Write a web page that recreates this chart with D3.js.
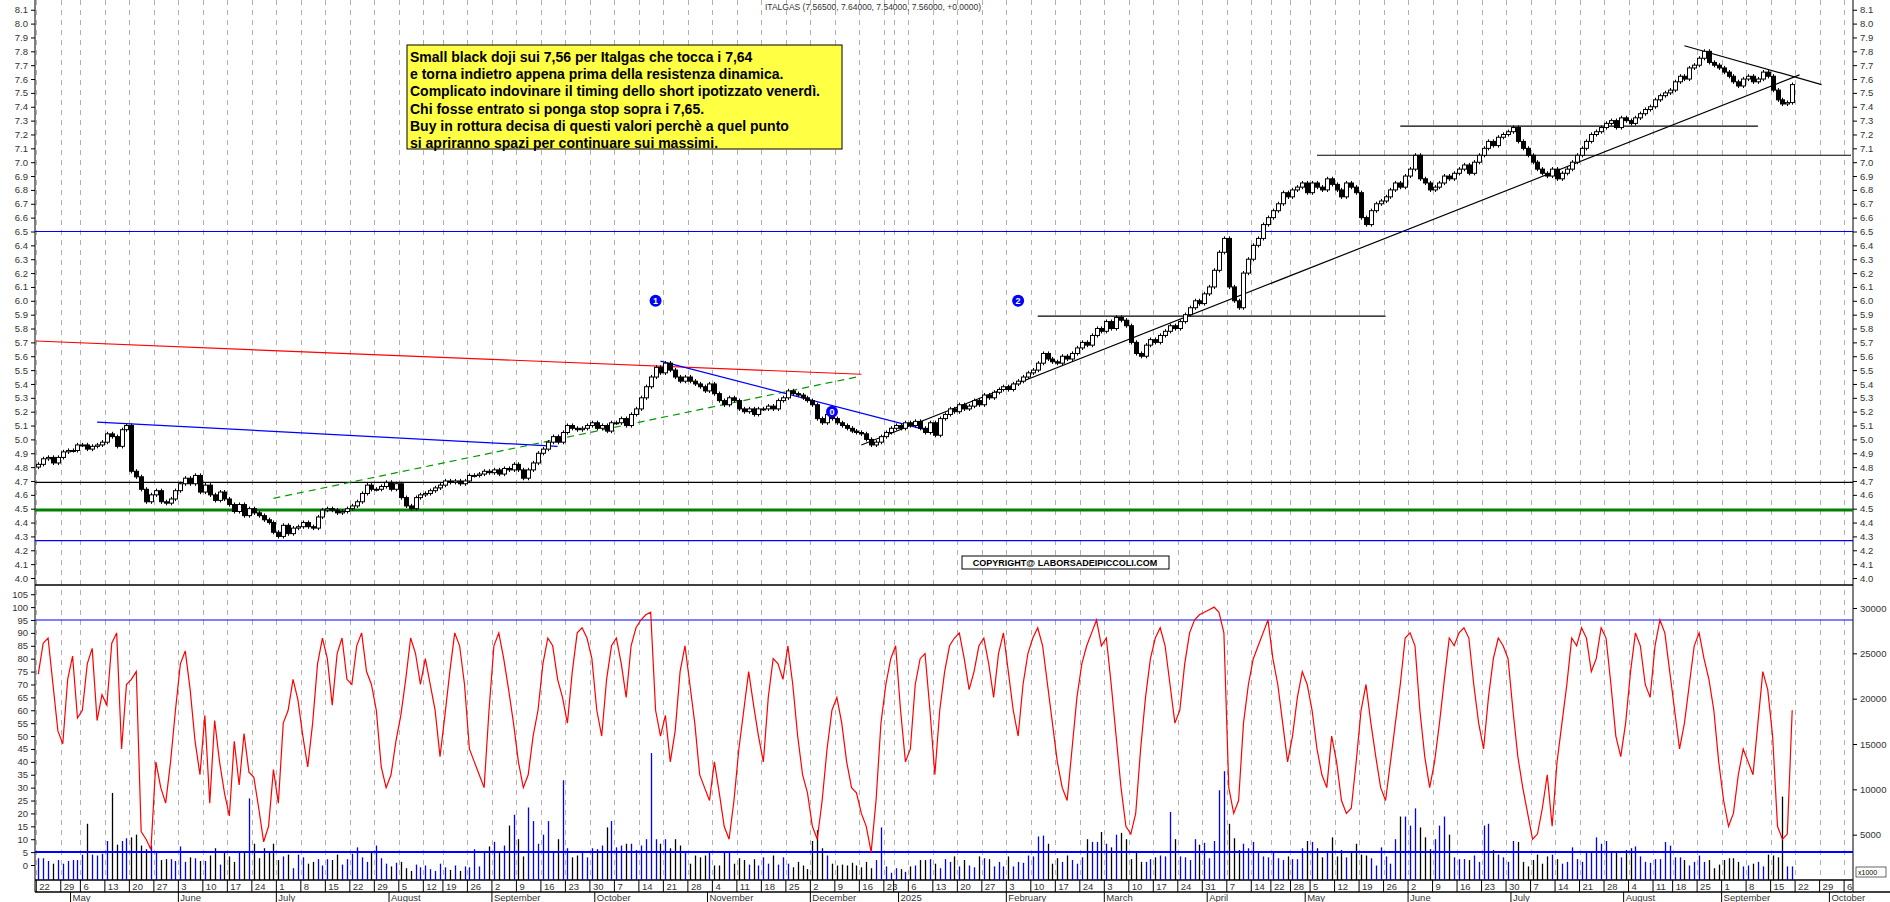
<!DOCTYPE html>
<html><head><meta charset="utf-8">
<script src="https://cdn.jsdelivr.net/npm/d3@7"></script>
<style>body{margin:0;background:#fff}svg{display:block;font-family:"Liberation Sans",Arial,sans-serif}</style>
</head><body><svg id="c" width="1890" height="902"></svg>
<script>
// ---- DATA (weekly groups of daily values) ----
const firstMonday = "2024-04-22";
const holidays = ["2024-05-01","2024-08-15","2024-12-24","2024-12-25","2024-12-26","2024-12-31","2025-01-01","2025-04-18","2025-04-21","2025-05-01","2025-08-15"];
const monthNames = ["2025","February","March","April","May","June","July","August","September","October","November","December"];
const closes = [
[4.82,4.86,4.87,4.83,4.87],[4.91,4.92,4.92,4.96],[4.96,4.93,4.95,4.96,4.98],[5.04,5.02,4.95,5.07,5.10],
[4.77,4.73,4.64,4.55,4.60],[4.63,4.55,4.54,4.57,4.63],[4.68,4.72,4.68,4.74,4.62],[4.67,4.60,4.56,4.62,4.57],
[4.53,4.48,4.53,4.45,4.50],[4.47,4.45,4.42,4.40,4.33],[4.30,4.38,4.32,4.36,4.37],[4.40,4.37,4.36,4.44,4.49],
[4.50,4.49,4.47,4.48,4.50],[4.52,4.55,4.61,4.67,4.64],[4.64,4.66,4.69,4.64,4.68],[4.58,4.52,4.50,4.58,4.60],
[4.61,4.63,4.65,4.67],[4.70,4.69,4.70,4.68,4.70],[4.74,4.74,4.75,4.77,4.76],[4.78,4.75,4.79,4.78,4.82],
[4.78,4.72,4.78,4.83,4.90],[4.93,4.98,5.02,4.98,5.05],[5.10,5.08,5.07,5.08,5.10],[5.12,5.08,5.10,5.06,5.12],
[5.12,5.15,5.10,5.18,5.22],[5.30,5.38,5.45,5.52,5.48],[5.55,5.50,5.45,5.42,5.45],[5.42,5.40,5.38,5.35,5.40],
[5.33,5.28,5.25,5.30,5.28],[5.22,5.20,5.22,5.18,5.22],[5.22,5.24,5.22,5.28,5.30],[5.35,5.33,5.32,5.30,5.28],
[5.25,5.15,5.12,5.18,5.15],[5.12,5.10,5.08,5.06,5.05],[5.04,5.00,4.96,4.98,5.02],[5.05,5.08],[5.10,5.08,5.12],
[5.10,5.13,5.08,5.05,5.12],[5.03,5.15,5.18,5.22,5.20],[5.25,5.22,5.24,5.28,5.25],[5.32,5.30,5.34,5.36,5.38],
[5.36,5.40,5.42,5.45,5.48],[5.50,5.55,5.62,5.58,5.56],[5.55,5.60,5.58,5.62,5.66],[5.70,5.68,5.75,5.80,5.78],
[5.85,5.80,5.88,5.86,5.82],[5.70,5.62,5.60,5.68,5.72],[5.70,5.75,5.78,5.82,5.80],[5.85,5.90,5.95,6.00,5.98],
[6.05,6.10,6.22,6.35,6.45],[6.10,6.00,5.95,6.20,6.30],[6.40,6.45,6.55,6.60],[6.65,6.70,6.78,6.75],
[6.80,6.82,6.85,6.78],[6.85,6.82,6.80,6.88,6.84],[6.80,6.75,6.85,6.82,6.78],[6.60,6.55,6.65,6.70,6.72],
[6.75,6.80,6.85,6.82,6.90],[6.95,7.05,6.88,6.85,6.80],[6.82,6.85,6.90,6.88,6.92],[6.95,6.98,6.92,7.00,7.05],
[7.10,7.15,7.12,7.18,7.20],[7.22,7.25,7.15,7.10,7.05],[7.00,6.95,6.92,6.90,6.95],[6.88,6.92,6.95,7.00,7.05],
[7.10,7.15,7.20,7.22,7.25],[7.28,7.30,7.25,7.32,7.30],[7.28,7.32,7.35,7.38,7.40],[7.45,7.48,7.50,7.52],
[7.58,7.62,7.60,7.68,7.70],[7.75,7.80,7.72,7.70,7.68],[7.65,7.62,7.58,7.55,7.60],[7.62,7.58,7.60,7.65,7.62],
[7.52,7.45,7.42,7.43,7.56]];
const oscillator = [
[74,86,88,70,52],[47,72,81,57],[60,78,84,56,66],[62,86,90,45,70],[72,75,13,10,6],[40,30,24,40,60],
[78,83,68,48,35],[58,24,56,40,28],[19,48,31,51,36],[34,22,9,15,37],[24,55,60,72,64],[50,38,55,78,88],
[80,62,82,88,72],[70,85,90,75,70],[60,38,30,35,48],[58,72,88,82,70],[80,70,60,42],[58,75,90,85,70],
[45,40,35,30,60],[85,90,80,68,55],[40,30,35,50,60],[78,88,85,72,65],[55,75,90,92,88],[80,60,50,72,85],
[88,78,65,85,92],[95,97,98,60,50],[58,40,52,75,85],[70,55,35,30,25],[40,28,15,10,25],[45,60,75,62,50],
[40,65,80,78,72],[85,70,50,35,28],[15,10,25,45,60],[65,55,40,30,28],[20,15,5,25,55],[70,80],[85,60,40],
[45,70,80,82,60],[35,60,75,85,88],[90,80,68,75,85],[88,78,65,82,90],[75,60,50,70,82],[88,92,85,70,55],
[40,30,25,45,65],[78,85,90,95,85],[88,70,50,30,15],[12,20,45,65,80],[88,92,85,70,55],[60,78,90,95,97],
[98,99,100,98,90],[30,20,25,55,70],[80,85,90,95],[80,70,55,40],[50,65,75,70],[60,45,35,30,50],
[40,25,20,22,40],[60,70,55,42,30],[25,40,55,70,88],[90,85,60,42,30],[40,55,72,88,85],[90,92,88,70,55],
[45,65,80,88,85],[80,60,42,30,20],[10,12,22,35,15],[40,55,70,88,85],[92,88,75,80,92],[88,70,50,42,55],
[75,90,85,70,65],[85,95,90,75],[60,45,55,70,85],[90,80,72,60,40],[25,15,20,35,45],[40,35,55,75,68],
[50,15,10,12,60]];
const volumeK = [
[2.4,2.4,2.1,1.8,2.2],[1.8,2.1,2.2,2.2],[2.8,6.2,2.8,2.7,2.9],[4.3,9.6,3.9,4.3,4.6],[4.7,5.0,3.8,3.4,3.8],
[3.0,2.2,2.3,2.3,2.1],[3.7,2.0,2.5,2.4,2.1],[2.1,2.7,3.5,1.7,3.0],[2.6,2.0,3.2,3.0,9.0],[4.0,2.4,3.5,3.0,4.0],
[2.2,2.6,2.8,1.3,2.8],[2.5,1.8,2.0,2.3,1.6],[2.3,2.2,2.8,1.7,2.3],[2.9,3.6,2.5,2.0,3.2],[3.8,2.4,1.8,1.5,1.9],
[2.0,1.3,1.0,1.7,1.4],[1.6,1.2,1.0,1.8],[1.4,1.1,1.6,1.0,1.5],[1.4,3.4,1.5,3.0,3.7],[4.2,3.0,3.8,6.0,7.2],
[4.5,2.6,8.0,6.5,4.0],[5.0,6.5,3.0,4.5,11.0],[3.5,2.5,2.7,3.2,2.5],[3.5,3.4,3.8,5.8,6.5],[3.6,3.8,4.0,4.0,3.3],
[3.8,4.5,14.0,4.5,4.0],[4.5,3.5,4.5,3.8,3.0],[1.8,2.7,2.5,2.7,3.2],[1.6,1.6,3.0,3.0,1.8],[2.4,2.2,1.7,2.3,1.6],
[2.5,1.8,2.7,1.7,2.5],[1.8,1.4,2.0,1.6,1.2],[4.3,5.5,3.5,2.7,1.8],[1.6,1.7,1.6,1.9,1.6],[1.4,2.0,1.3,2.2,5.8],
[1.5,0.8],[1.3,1.2,0.9],[1.5,1.6,2.2,2.2,2.3],[1.8,1.3,2.3,2.0,2.6],[1.5,2.2,1.6,1.4,2.6],[2.4,2.3,1.5,2.0,1.5],
[2.6,1.5,2.0,1.9,2.7],[2.6,4.8,4.9,4.0,1.8],[2.4,2.0,2.7,2.2,1.8],[2.5,4.5,4.2,4.2,5.3],[4.0,3.6,5.0,5.2,4.5],
[2.3,3.0,2.0,2.0,2.3],[2.5,2.7,2.6,7.5,4.5],[2.6,2.5,2.2,4.5,3.9],[4.1,2.4,4.3,9.9,12.0],[6.2,4.6,3.3,4.0,3.5],
[4.2,3.0,2.6,2.5],[3.0,2.4,2.2,2.6],[2.3,2.3,3.5,4.3],[4.2,3.5,2.5,3.0,4.7],[2.6,3.3,2.5,3.1,4.0],
[2.8,2.7,2.4,1.6,3.6],[2.6,1.8,4.5,7.0,7.0],[6.0,7.9,5.8,4.7,3.4],[4.5,6.0,7.0,5.0,2.5],[2.3,2.3,2.2,2.7,2.0],
[6.0,6.2,3.3,2.8,2.5],[2.0,4.3,4.2,2.0,1.5],[2.2,2.8,1.8,2.6,2.8],[2.3,1.8,2.0,3.6,2.3],[2.0,3.0,3.1,4.7,4.0],
[4.3,3.0,3.2,2.5,3.3],[3.5,3.7,2.6,2.0,1.9],[2.3,2.3,4.2,3.8],[2.5,2.5,2.2,1.6,2.0],[2.7,2.0,2.2,1.3,1.7],
[2.2,2.4,2.4,2.0,1.5],[1.6,1.8,2.0,1.5,2.8],[2.7,2.5,9.2,1.5,1.5]];
const firstOpen = 4.80;
const priceTicks = d3.range(40,82).map(v=>v/10);
const oscTicks = d3.range(0,110,5);
const volTicks = [5000,10000,15000,20000,25000,30000];
const hLines = [{p:6.5,c:"#0000ff",w:1.2},{p:4.69,c:"#000",w:1.2},{p:4.49,c:"#008000",w:3},{p:4.27,c:"#0000ff",w:1.2}];
const segs = [
 {a:["2024-04-22",5.71,-0.5],b:["2024-12-16",5.47],c:"#ff0000"},
 {a:["2024-05-09",5.125],b:["2024-09-19",4.95],c:"#0000ff"},
 {a:["2024-06-28",4.575],b:["2024-12-13",5.45],c:"#009900",dash:"7,5"},
 {a:["2024-10-18",5.565],b:["2025-01-09",5.07],c:"#0000ff"},
 {a:["2024-12-16",4.96],b:["2025-09-19",7.63,1.5],c:"#000"},
 {a:["2025-08-20",7.84],b:["2025-09-29",7.56],c:"#000"},
 {a:["2025-02-11",5.89],b:["2025-05-26",5.89],c:"#000"},
 {a:["2025-05-06",7.05],b:["2025-10-07",7.05],c:"#000"},
 {a:["2025-05-29",7.26],b:["2025-09-10",7.26],c:"#000"}];
const markers = [{t:"1",d:"2024-10-17",p:6.0},{t:"0",d:"2024-12-06",p:5.2},{t:"2",d:"2025-02-05",p:6.0}];
const noteLines = ["Small black doji sui 7,56 per Italgas che tocca i 7,64","e torna indietro appena prima della resistenza dinamica.","Complicato indovinare il timing dello short ipotizzato venerdì.","Chi fosse entrato si ponga stop sopra i 7,65.","Buy in rottura decisa di questi valori perchè a quel punto","si apriranno spazi per continuare sui massimi."];

// ---- calendar ----
const fmt = d3.utcFormat("%Y-%m-%d");
const hol = new Set(holidays);
const days = [], weeks = [];
let m0 = new Date(firstMonday+"T00:00:00Z");
for (let w=0; w<77; w++){
  const wk=[];
  for(let k=0;k<5;k++){const d=new Date(m0.getTime()+(w*7+k)*864e5); if(!hol.has(fmt(d))){wk.push(days.length);days.push(d);}}
  weeks.push(wk);
}
const idxOf = s => { const t=new Date(s+"T00:00:00Z").getTime(); return days.findIndex(d=>d.getTime()>=t); };
const data=[]; let prev=firstOpen;
closes.forEach((wk,w)=>wk.forEach((c,k)=>{const i=weeks[w][k]; const o=prev; data.push({i,o,c,hi:Math.max(o,c)+0.015,lo:Math.min(o,c)-0.015,osc:oscillator[w][k],vol:volumeK[w][k]*1000}); prev=c;}));

// ---- scales ----
const L=35,R=1853;
const x=d3.scaleLinear().domain([-0.67,370]).range([L,1851]);
const y=d3.scaleLinear().domain([4.0,8.0]).range([578,23.6]);
const yo=d3.scaleLinear().domain([0,95]).range([865,620]);
const yv=d3.scaleLinear().domain([0,30000]).range([880,608]);
const svg=d3.select("#c");

const g=svg.append("g");
weeks.forEach(wk=>{ if(!wk.length)return; const xx=Math.round(x(wk[0])-2)+0.5; if(xx>R)return;
  g.append("line").attr("x1",xx).attr("x2",xx).attr("y1",0).attr("y2",880).attr("stroke","#b0b0b0").attr("stroke-dasharray","5,5"); });

svg.append("line").attr("x1",L).attr("x2",L).attr("y1",0).attr("y2",892).attr("stroke","#000");
svg.append("line").attr("x1",R).attr("x2",R).attr("y1",0).attr("y2",892).attr("stroke","#000");
svg.append("line").attr("x1",L).attr("x2",R).attr("y1",585).attr("y2",585).attr("stroke","#000").attr("stroke-width",1.5);
svg.append("line").attr("x1",L).attr("x2",R).attr("y1",880).attr("y2",880).attr("stroke","#000").attr("stroke-width",1.5);
svg.append("line").attr("x1",L).attr("x2",1890).attr("y1",892).attr("y2",892).attr("stroke","#000").attr("stroke-width",1.5);

const la=d3.axisLeft(y).tickValues(priceTicks).tickFormat(d3.format(".1f")).tickSize(4);
const ra=d3.axisRight(y).tickValues(priceTicks).tickFormat(d3.format(".1f")).tickSize(4);
[svg.append("g").attr("transform",`translate(${L},0)`).call(la), svg.append("g").attr("transform",`translate(${R},0)`).call(ra)].forEach(a=>{
 a.select(".domain").remove(); a.selectAll("text").attr("font-size",9.5).attr("fill","#333");});
const oa=svg.append("g").attr("transform",`translate(${L},0)`).call(d3.axisLeft(yo).tickValues(oscTicks).tickSize(4));
oa.select(".domain").remove(); oa.selectAll("text").attr("font-size",9.5).attr("fill","#333");
const va=svg.append("g").attr("transform",`translate(${R},0)`).call(d3.axisRight(yv).tickValues(volTicks).tickFormat(d3.format("d")).tickSize(4));
va.select(".domain").remove(); va.selectAll("text").attr("font-size",9.5).attr("fill","#333");
svg.append("rect").attr("x",R+3).attr("y",867).attr("width",30).attr("height",10).attr("fill","#fff").attr("stroke","#000").attr("stroke-width",0.6);
svg.append("text").attr("x",R+5).attr("y",875).attr("font-size",7).text("x1000");

hLines.forEach(h=>svg.append("line").attr("x1",L).attr("x2",R).attr("y1",y(h.p)).attr("y2",y(h.p)).attr("stroke",h.c).attr("stroke-width",h.w));
svg.append("line").attr("x1",L).attr("x2",R).attr("y1",yo(95)).attr("y2",yo(95)).attr("stroke","#0000ff").attr("stroke-width",1.2);

segs.forEach(s=>{const xa=s.a[2]!==undefined?s.a[2]:idxOf(s.a[0]); const xb=idxOf(s.b[0])+(s.b[2]||0);
 svg.append("line").attr("x1",x(xa)).attr("y1",y(s.a[1])).attr("x2",Math.min(x(xb),R)).attr("y2",y(s.b[1])).attr("stroke",s.c).attr("stroke-width",1.2).attr("stroke-dasharray",s.dash||null);});

const cg=svg.append("g");
data.forEach(d=>{const cx=Math.round(x(d.i))+0.5;
 cg.append("line").attr("x1",cx).attr("x2",cx).attr("y1",y(d.hi)).attr("y2",y(d.lo)).attr("stroke","#000");
 const up=d.c>=d.o; const t=y(Math.max(d.o,d.c)), b=y(Math.min(d.o,d.c));
 cg.append("rect").attr("x",cx-2).attr("width",4).attr("y",t).attr("height",Math.max(1,b-t)).attr("fill",up?"#fff":"#000").attr("stroke","#000").attr("stroke-width",1);});

data.forEach(d=>{const cx=Math.round(x(d.i))+0.5;
 svg.append("line").attr("x1",cx).attr("x2",cx).attr("y1",880).attr("y2",yv(d.vol)).attr("stroke",d.c>=d.o?"#0000ff":"#000").attr("stroke-width",1.3);});
svg.append("line").attr("x1",L).attr("x2",R).attr("y1",yo(5)).attr("y2",yo(5)).attr("stroke","#0000ff").attr("stroke-width",2);
svg.append("path").datum(data).attr("d",d3.line().x(d=>x(d.i)).y(d=>yo(d.osc))).attr("fill","none").attr("stroke","#ff0000").attr("stroke-width",1.2);

markers.forEach(m=>{const cx=x(idxOf(m.d)),cy=y(m.p);
 svg.append("circle").attr("cx",cx).attr("cy",cy).attr("r",6).attr("fill","#0000ff");
 svg.append("text").attr("x",cx).attr("y",cy+3.5).attr("text-anchor","middle").attr("font-size",9).attr("font-weight","bold").attr("fill","#fff").text(m.t);});

svg.append("rect").attr("x",407).attr("y",45).attr("width",435).attr("height",104).attr("fill","#ffff44").attr("stroke","#000");
noteLines.forEach((t,k)=>svg.append("text").attr("x",410).attr("y",62+k*17.2).attr("font-size",14).attr("font-weight","bold").attr("fill","#000").text(t));
svg.append("rect").attr("x",962).attr("y",556).attr("width",207).attr("height",13).attr("fill","#fff").attr("stroke","#000");
svg.append("text").attr("x",1065).attr("y",566).attr("text-anchor","middle").attr("font-size",9).attr("font-weight","bold").text("COPYRIGHT@ LABORSADEIPICCOLI.COM");
svg.append("text").attr("x",873).attr("y",10).attr("text-anchor","middle").attr("font-size",8.5).attr("fill","#333").text("ITALGAS (7.56500, 7.64000, 7.54000, 7.56000, +0.0000)");

let lastLab=-100;
weeks.forEach(wk=>{ if(!wk.length)return; const xx=x(wk[0])-2; if(xx>R+5)return;
 svg.append("line").attr("x1",xx).attr("x2",xx).attr("y1",880).attr("y2",892).attr("stroke","#000");
 if(xx-lastLab<16)return; lastLab=xx;
 svg.append("text").attr("x",xx+3).attr("y",890).attr("font-size",9.5).attr("fill","#333").text(days[wk[0]].getUTCDate());});
days.forEach((d,i)=>{ if(i===0 || days[i-1].getUTCMonth()===d.getUTCMonth())return; const xx=x(i)-2;
 svg.append("line").attr("x1",xx).attr("x2",xx).attr("y1",892).attr("y2",902).attr("stroke","#000");
 svg.append("text").attr("x",xx+2).attr("y",901).attr("font-size",9.5).attr("fill","#333").text(d.getUTCMonth()===0?"2025":monthNames[d.getUTCMonth()]);});
</script></body></html>
